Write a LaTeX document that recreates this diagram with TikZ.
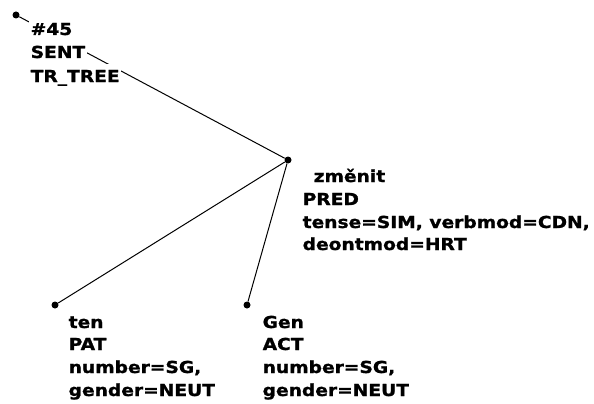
\documentclass[tikz,border=0pt]{standalone}
\usepackage{fontspec}
\setmainfont[FakeStretch=1.13,FakeBold=1.2]{DejaVu Sans Bold}
\begin{document}
\begin{tikzpicture}[x=1pt,y=-1pt,
  dot/.style={circle,fill=black,inner sep=0pt,minimum size=7pt},
  lbl/.style={anchor=base west,fill=white,inner xsep=1.5pt,inner ysep=0pt,
    text height=18pt,text depth=5pt,font=\fontsize{16.5}{23}\selectfont},
  edge/.style={line width=1pt,black}]
\useasboundingbox[fill=white] (0,0) rectangle (594,404);
% nodes (dots)
\node[dot] (root) at (16,15) {};
\node[dot] (zm) at (288,160) {};
\node[dot] (ten) at (55,305) {};
\node[dot] (gen) at (247,305) {};
% connectors
\draw[edge] (root) -- (zm);
\draw[edge] (zm) -- (ten);
\draw[edge] (zm) -- (gen);
% root labels
\node[lbl] (r1) at (29,35) {\#45};
\node[lbl] (r2) at (29,58) {SENT};
\node[lbl] (r3) at (29,82) {TR\_TREE};
% zmenit labels
\node[lbl] (z1) at (312,182) {změnit};
\node[lbl] (z2) at (301,205) {PRED};
\node[lbl] (z3) at (301,228) {tense=SIM, verbmod=CDN,};
\node[lbl] (z4) at (301,250) {deontmod=HRT};
% ten labels
\node[lbl] (t1) at (67,328) {ten};
\node[lbl] (t2) at (67,350) {PAT};
\node[lbl] (t3) at (67,373) {number=SG,};
\node[lbl] (t4) at (67,396) {gender=NEUT};
% Gen labels
\node[lbl] (g1) at (261,328) {Gen};
\node[lbl] (g2) at (261,350) {ACT};
\node[lbl] (g3) at (261,373) {number=SG,};
\node[lbl] (g4) at (261,396) {gender=NEUT};
\end{tikzpicture}
\end{document}
